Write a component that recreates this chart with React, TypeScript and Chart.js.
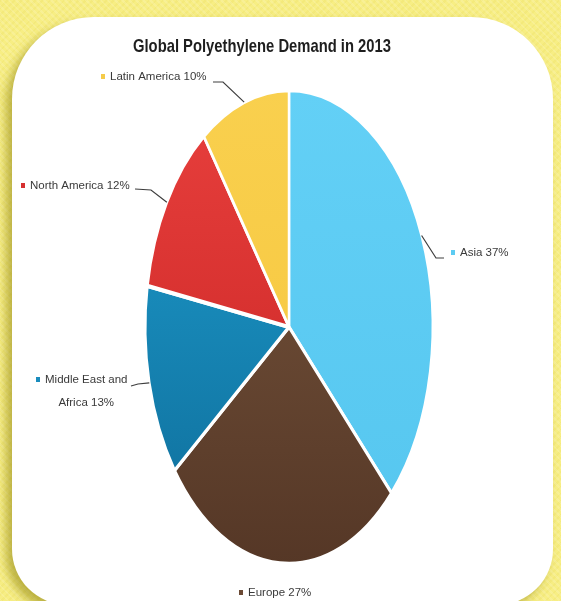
import React, { useEffect, useRef } from "react";
import { Chart, registerables } from "chart.js";

Chart.register(...registerables);

// ---- data ----
const TITLE = "Global Polyethylene Demand in 2013";
const regions = ["Asia", "Europe", "Middle East and\nAfrica", "North America", "Latin America"];
const shares = [37, 27, 13, 12, 10];
const topColors = ["#63d0f6", "#7a583f", "#1f9fd0", "#e8403d", "#f9d04e"];
const bottomColors = ["#55c6ef", "#553726", "#0e6c99", "#c62222", "#f6c53c"];
const markerColors = ["#5ccbf2", "#6b4a35", "#1a8cbd", "#d63030", "#f5cb4a"];

// ---- layout (not data) ----
const SY = 1.647; // vertical stretch of the pie
const LABEL_LAYOUT = [
  { x: 460, y: 253, mx: 451, pts: [[436, 258], [444, 258]] },
  { x: 248, y: 593, mx: 239, pts: [] as number[][] },
  { x: 45, y: 380, mx: 36, pts: [[138, 384], [131, 386]], gap: 23 },
  { x: 30, y: 186, mx: 21, pts: [[151, 190], [135, 189]] },
  { x: 110, y: 77, mx: 101, pts: [[223, 82], [213, 82]] },
];

const LABEL_FONT = '11.5px "Liberation Sans", Arial, sans-serif';

const ellipsePlugin = {
  id: "ellipse",
  beforeDatasetsDraw(chart: any) {
    const arc = chart.getDatasetMeta(0).data[0];
    if (!arc) return;
    const ctx = chart.ctx;
    ctx.save();
    ctx.translate(0, arc.y);
    ctx.scale(1, SY);
    ctx.translate(0, -arc.y);
  },
  afterDatasetsDraw(chart: any) {
    chart.ctx.restore();
  },
};

const textPlugin = {
  id: "texts",
  afterDraw(chart: any) {
    const ctx: CanvasRenderingContext2D = chart.ctx;
    // title
    ctx.save();
    ctx.font = 'bold 19px "Liberation Sans", Arial, sans-serif';
    ctx.fillStyle = "#1e1e1e";
    ctx.textBaseline = "middle";
    ctx.textAlign = "center";
    const tw = ctx.measureText(TITLE).width;
    const target = 258;
    const sx = Math.min(1, target / tw);
    ctx.translate(262, 47);
    ctx.scale(sx, 1);
    ctx.fillText(TITLE, 0, 0);
    ctx.restore();

    const meta = chart.getDatasetMeta(0);
    meta.data.forEach((arc: any, i: number) => {
      const lay = LABEL_LAYOUT[i];
      const mid = (arc.startAngle + arc.endAngle) / 2;
      const ex = arc.x + Math.cos(mid) * arc.outerRadius;
      const ey = arc.y + Math.sin(mid) * arc.outerRadius * SY;
      ctx.save();
      if (lay.pts.length) {
        ctx.strokeStyle = "#3e3e3e";
        ctx.lineWidth = 1.2;
        ctx.beginPath();
        ctx.moveTo(ex, ey);
        lay.pts.forEach((p) => ctx.lineTo(p[0], p[1]));
        ctx.stroke();
      }
      ctx.fillStyle = markerColors[i];
      ctx.fillRect(lay.mx, lay.y - 3, 4, 5);
      ctx.font = LABEL_FONT;
      ctx.fillStyle = "#3a3a3a";
      ctx.textBaseline = "middle";
      const lines = `${regions[i]} ${shares[i]}%`.split("\n");
      if (lines.length === 1) {
        ctx.textAlign = "left";
        ctx.fillText(lines[0], lay.x, lay.y);
      } else {
        const w0 = ctx.measureText(lines[0]).width;
        ctx.textAlign = "left";
        ctx.fillText(lines[0], lay.x, lay.y);
        ctx.textAlign = "center";
        for (let k = 1; k < lines.length; k++) {
          ctx.fillText(lines[k], lay.x + w0 / 2, lay.y + (lay.gap || 20) * k);
        }
      }
      ctx.restore();
    });
  },
};

export default function App() {
  const ref = useRef<HTMLCanvasElement | null>(null);
  useEffect(() => {
    if (!ref.current) return;
    const chart = new Chart(ref.current, {
      type: "pie",
      data: {
        labels: regions.map((r) => r.replace("\n", " ")),
        datasets: [
          {
            data: shares,
            clip: false as any,
            backgroundColor: (c: any) => {
              const area = c.chart.chartArea;
              const i = c.dataIndex;
              if (!area) return topColors[i];
              const g = c.chart.ctx.createLinearGradient(0, area.top, 0, area.bottom);
              g.addColorStop(0, topColors[i]);
              g.addColorStop(1, bottomColors[i]);
              return g;
            },
            borderColor: "#ffffff",
            borderWidth: 2.5,
          },
        ],
      },
      options: {
        responsive: false,
        animation: false,
        layout: { padding: { left: 144, right: 127, top: 182, bottom: 129 } },
        plugins: {
          legend: { display: false },
          title: { display: false },
          tooltip: { enabled: false },
        },
      },
      plugins: [ellipsePlugin, textPlugin],
    });
    return () => chart.destroy();
  }, []);

  return (
    <div
      style={{
        position: "absolute",
        left: 0,
        top: 0,
        width: 561,
        height: 601,
        overflow: "hidden",
        backgroundColor: "#f7ee84",
        backgroundImage:
          "repeating-linear-gradient(45deg, rgba(255,255,255,0.14) 0 2px, rgba(255,255,255,0) 2px 5px), repeating-linear-gradient(-45deg, rgba(230,215,90,0.2) 0 2px, rgba(255,255,255,0) 2px 5px)",
      }}
    >
      <div
        style={{
          position: "absolute",
          left: 12,
          top: 17,
          width: 541,
          height: 588,
          background: "#ffffff",
          borderRadius: "82px 82px 56px 56px",
          boxShadow: "-6px 6px 10px rgba(140,130,10,0.55)",
        }}
      />
      <canvas
        ref={ref}
        width={561}
        height={601}
        style={{ position: "absolute", left: 0, top: 0, width: 561, height: 601 }}
      />
    </div>
  );
}
